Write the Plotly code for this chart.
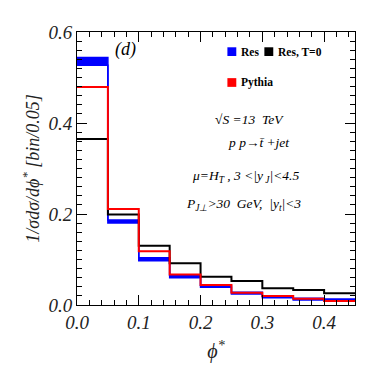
import plotly.graph_objects as go

bin_edges = [0.0, 0.05, 0.10, 0.15, 0.20, 0.25, 0.30, 0.35, 0.40, 0.45]
res_lo = [0.527, 0.180, 0.097, 0.060, 0.039, 0.024, 0.016, 0.011, 0.009]
res_hi = [0.544, 0.187, 0.104, 0.065, 0.043, 0.028, 0.020, 0.015, 0.013]
res_t0 = [0.365, 0.199, 0.130, 0.092, 0.062, 0.053, 0.037, 0.033, 0.026]
pythia = [0.479, 0.211, 0.118, 0.067, 0.044, 0.027, 0.020, 0.014, 0.009]

BLUE = "#0000ff"
RED = "#ff0000"
BLACK = "#000000"
SERIF = "Liberation Serif"

def step(vals):
    return list(vals) + [vals[-1]]

fig = go.Figure()
fig.add_trace(go.Scatter(x=bin_edges, y=step(res_lo), mode="lines", line_shape="hv",
                         line=dict(color=BLUE, width=1.5), showlegend=False, hoverinfo="skip"))
fig.add_trace(go.Scatter(x=bin_edges, y=step(res_hi), mode="lines", line_shape="hv",
                         line=dict(color=BLUE, width=1.5), fill="tonexty", fillcolor=BLUE,
                         showlegend=False, hoverinfo="skip"))
fig.add_trace(go.Scatter(x=bin_edges, y=step(res_t0), mode="lines", line_shape="hv",
                         line=dict(color=BLACK, width=2), showlegend=False))
fig.add_trace(go.Scatter(x=bin_edges, y=step(pythia), mode="lines", line_shape="hv",
                         line=dict(color=RED, width=2), showlegend=False))

tickfont = dict(family=SERIF, size=19, style="italic", color="#222")
axis_common = dict(showline=True, linecolor="black", linewidth=1, mirror="ticks",
                   ticks="inside", ticklen=10, tickcolor="black", showgrid=False,
                   zeroline=False, tickfont=tickfont, tickformat=".1f", automargin=False)

fig.update_xaxes(range=[0, 0.45], dtick=0.1, tick0=0,
                 minor=dict(dtick=0.02, ticklen=5, ticks="inside", tickcolor="black"),
                 title=dict(text="ϕ<sup>*</sup>", font=dict(family=SERIF, size=20, style="italic", color="#222"), standoff=12),
                 **axis_common)
fig.update_yaxes(range=[0, 0.6], dtick=0.2, tick0=0,
                 minor=dict(dtick=0.02, ticklen=5, ticks="inside", tickcolor="black"),
                 title=dict(text="1/σdσ/dϕ<sup>*</sup> [bin/0.05]", font=dict(family=SERIF, size=18, style="italic", color="#222"), standoff=4),
                 **axis_common)

# legend
leg_font = dict(family=SERIF, size=11.5, color="black", weight="bold")
legend_items = [("Res", BLUE, 0.557, 0.928), ("Res, T=0", BLACK, 0.69, 0.928), ("Pythia", RED, 0.557, 0.815)]
for name, col, lx, ly in legend_items:
    fig.add_shape(type="rect", xref="paper", yref="paper", x0=lx - 0.016, x1=lx + 0.016,
                  y0=ly - 0.016, y1=ly + 0.016, fillcolor=col, line=dict(width=0))
    fig.add_annotation(xref="paper", yref="paper", x=lx + 0.026, y=ly, text=name, showarrow=False,
                       xanchor="left", yanchor="middle", font=leg_font)

txt_font = dict(family=SERIF, size=13.5, style="italic", color="black")
fig.add_annotation(xref="paper", yref="paper", x=0.13, y=0.98, text="(d)", showarrow=False,
                   font=dict(family=SERIF, size=18, style="italic", color="black"))
texts = [
    ("√S =13  TeV", 0.62, 0.715),
    ("p p→t̄ +jet", 0.655, 0.595),
    ("μ=H<sub>T</sub> , 3 <|y<sub> J</sub>|<4.5", 0.605, 0.470),
    ("P<sub>J⊥</sub>>30  GeV,  |y<sub>t</sub>|<3", 0.60, 0.330),
]
for t, tx, ty in texts:
    fig.add_annotation(xref="paper", yref="paper", x=tx, y=ty, text=t, showarrow=False, font=txt_font)

fig.update_layout(width=366, height=366, margin=dict(l=77, r=11, t=32, b=61),
                  plot_bgcolor="white", paper_bgcolor="white", showlegend=False)

fig.write_html("out.html", config={"displayModeBar": False},
               post_script="document.body.style.margin='0';document.body.style.padding='0';")
